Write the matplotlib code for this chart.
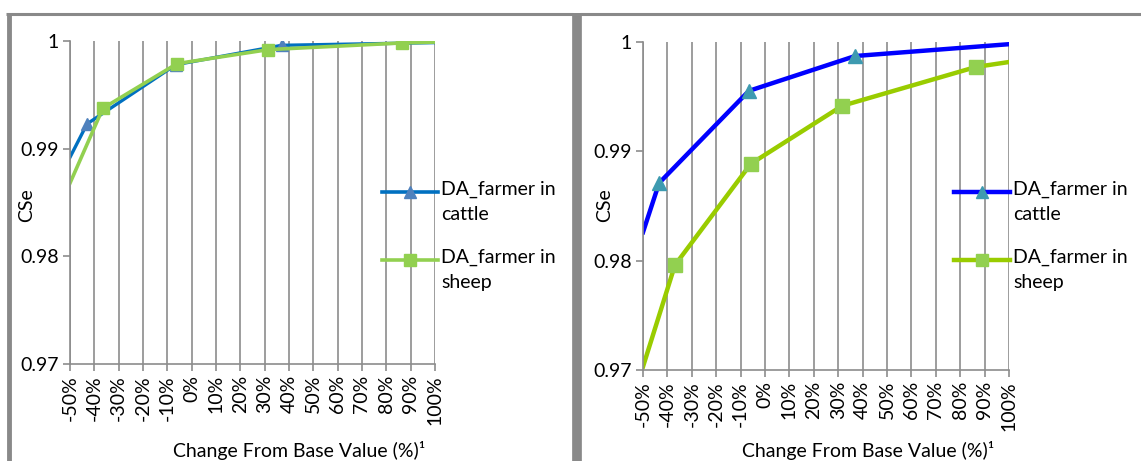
import matplotlib
matplotlib.use("Agg")
from matplotlib import pyplot as plt
from matplotlib.lines import Line2D

plt.rcParams['font.family'] = ['Lato', 'DejaVu Sans']

W, H = 1141, 461

x_ticks = [-50, -40, -30, -20, -10, 0, 10, 20, 30, 40, 50, 60, 70, 80, 90, 100]
y_ticks = [0.97, 0.98, 0.99, 1.0]

# left chart
left_cattle_x = [-50, -43, -6.5, 37, 100]
left_cattle_y = [0.9892, 0.9923, 0.9978, 0.9996, 0.99985]
left_sheep_x = [-50, -36.5, -6, 31.5, 86.5, 100]
left_sheep_y = [0.9868, 0.99375, 0.9979, 0.9992, 0.99982, 0.9999]

# right chart
right_cattle_x = [-50, -43.4, -6.6, 37, 100]
right_cattle_y = [0.9826, 0.9871, 0.99553, 0.99872, 0.9998]
right_sheep_x = [-50, -36.9, -5.8, 31.6, 86.5, 100]
right_sheep_y = [0.9703, 0.9796, 0.98886, 0.99416, 0.99772, 0.99817]

labels = ["DA_farmer in\ncattle", "DA_farmer in\nsheep"]

GRID = '#8c8c8c'
FS = 14


def fx(x):
    return x / W


def fy(y):
    return 1 - y / H


def setup(ax):
    ax.set_xlim(-50, 100)
    ax.set_ylim(0.97, 1.0)
    ax.set_xticks(x_ticks)
    ax.set_xticklabels([f"{t}%" for t in x_ticks], rotation=90, fontsize=FS)
    ax.set_yticks(y_ticks)
    ax.set_yticklabels([f"{t:g}" for t in y_ticks], fontsize=FS)
    ax.grid(axis='x', color=GRID, lw=1.2)
    ax.set_axisbelow(True)
    for s in ['top', 'right']:
        ax.spines[s].set_visible(False)
    for s in ['left', 'bottom']:
        ax.spines[s].set_color(GRID)
        ax.spines[s].set_linewidth(1.2)
    ax.tick_params(direction='out', length=5, width=1.2, color=GRID, pad=3)


def legend(x0, x1, xt, rows):
    for (y, color, marker, mcolor, lw, text) in rows:
        fig.add_artist(Line2D([fx(x0), fx(x1)], [fy(y), fy(y)], color=color, lw=lw,
                              transform=fig.transFigure))
        fig.add_artist(Line2D([fx((x0 + x1) / 2)], [fy(y)], marker=marker, ms=8,
                              color=mcolor, mec=mcolor, transform=fig.transFigure))
        fig.text(fx(xt), fy(y - 11), text, fontsize=FS, va='top', ha='left',
                 linespacing=1.55)


fig = plt.figure(figsize=(W / 100, H / 100), dpi=100)

# left panel
ax1 = fig.add_axes([fx(70), fy(364), fx(365), 323 / H])
setup(ax1)
ax1.plot(left_cattle_x, left_cattle_y, color='#0070C0', lw=2.4, marker='^', ms=9,
         mfc='#4F81BD', mec='#4F81BD', markevery=[1, 2, 3])
ax1.plot(left_sheep_x, left_sheep_y, color='#92D050', lw=2.6, marker='s', ms=9,
         mfc='#92D050', mec='#92D050', markevery=[1, 2, 3, 4])
fig.text(fx(27), fy(205), "CSe", rotation=90, fontsize=FS, ha='center', va='center')
fig.text(fx(299), fy(450), "Change From Base Value (%)¹", fontsize=FS, ha='center',
         va='center')
legend(382, 438, 441, [(192, '#0070C0', '^', '#4F81BD', 2.6, labels[0]),
                       (260, '#92D050', 's', '#92D050', 2.6, labels[1])])

# right panel
ax2 = fig.add_axes([fx(643), fy(370), fx(366), 328 / H])
setup(ax2)
ax2.plot(right_cattle_x, right_cattle_y, color='#0000FF', lw=3.2, marker='^', ms=10,
         mfc='#3D9AB0', mec='#3D9AB0', markevery=[1, 2, 3])
ax2.plot(right_sheep_x, right_sheep_y, color='#99CC00', lw=3.2, marker='s', ms=10,
         mfc='#92D050', mec='#92D050', markevery=[1, 2, 3, 4])
fig.text(fx(605), fy(205), "CSe", rotation=90, fontsize=FS, ha='center', va='center')
fig.text(fx(868), fy(450), "Change From Base Value (%)¹", fontsize=FS, ha='center',
         va='center')
legend(954, 1010, 1013, [(192, '#0000FF', '^', '#3D9AB0', 3.2, labels[0]),
                         (260, '#99CC00', 's', '#92D050', 3.2, labels[1])])

# panel borders
BORDER = '#898989'
for (xs, ys, lw) in [([6, 573], [14.5, 14.5], 2.2), ([580, 1141], [14.5, 14.5], 2.2),
                     ([8.5, 8.5], [13, 461], 3.5), ([577, 577], [13, 461], 7)]:
    fig.add_artist(Line2D([fx(v) for v in xs], [fy(v) for v in ys], color=BORDER,
                          lw=lw, transform=fig.transFigure, solid_capstyle='butt'))

fig.savefig("out.png", dpi=100)
